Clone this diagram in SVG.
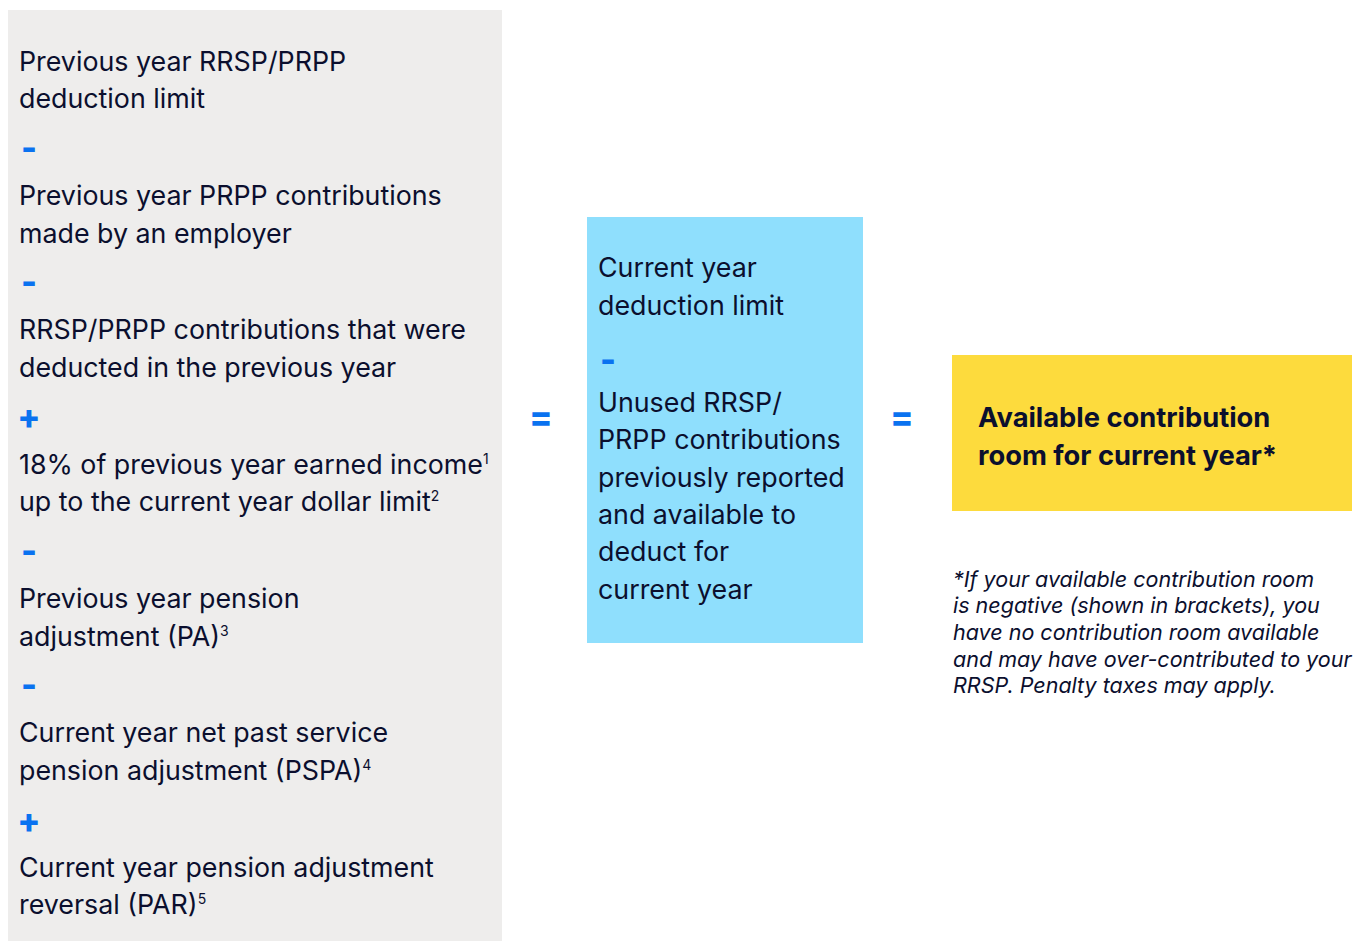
<svg xmlns="http://www.w3.org/2000/svg" width="1359" height="941" viewBox="0 0 1359 941">
<style>
.t{font-family:Inter,"Noto Sans","Liberation Sans",sans-serif;font-size:26.8px;fill:#0b0f2e}
.op{font-family:Inter,"Noto Sans","Liberation Sans",sans-serif;font-size:34px;font-weight:800;fill:#0a72f0;text-anchor:middle}
.b{font-family:Inter,"Noto Sans","Liberation Sans",sans-serif;font-size:27.3px;font-weight:700;fill:#0b0f2e}
.n{font-family:Inter,"Noto Sans","Liberation Sans",sans-serif;font-size:21.5px;font-style:italic;fill:#0b0f2e}
.sup{font-size:14px}
</style>
<rect width="1359" height="941" fill="#ffffff"/>
<g id="left-box">
<rect x="8" y="10" width="494" height="931" fill="#eeedec"/>
<text class="t" x="19" y="71">Previous year RRSP/PRPP</text>
<text class="t" x="19" y="108">deduction limit</text>
<text class="op" x="29" y="160">-</text>
<text class="t" x="19" y="205">Previous year PRPP contributions</text>
<text class="t" x="19" y="243">made by an employer</text>
<text class="op" x="29" y="294">-</text>
<text class="t" x="19" y="339">RRSP/PRPP contributions that were</text>
<text class="t" x="19" y="377">deducted in the previous year</text>
<text class="op" x="29" y="429">+</text>
<text class="t" x="19" y="474">18% of previous year earned income<tspan class="sup" dy="-10">1</tspan></text>
<text class="t" x="19" y="511">up to the current year dollar limit<tspan class="sup" dy="-10">2</tspan></text>
<text class="op" x="29" y="563">-</text>
<text class="t" x="19" y="608">Previous year pension</text>
<text class="t" x="19" y="646">adjustment (PA)<tspan class="sup" dy="-10">3</tspan></text>
<text class="op" x="29" y="697">-</text>
<text class="t" x="19" y="742">Current year net past service</text>
<text class="t" x="19" y="780">pension adjustment (PSPA)<tspan class="sup" dy="-10">4</tspan></text>
<text class="op" x="29" y="833">+</text>
<text class="t" x="19" y="877">Current year pension adjustment</text>
<text class="t" x="19" y="914">reversal (PAR)<tspan class="sup" dy="-10">5</tspan></text>
</g>
<g id="connectors">
<text class="op" x="541" y="429">=</text>
<text class="op" x="902" y="429">=</text>
</g>
<g id="middle-box">
<rect x="587" y="217" width="276" height="426" fill="#8fdffd"/>
<text class="t" x="598" y="277">Current year</text>
<text class="t" x="598" y="315">deduction limit</text>
<text class="op" x="608" y="372">-</text>
<text class="t" x="598" y="412">Unused RRSP/</text>
<text class="t" x="598" y="449">PRPP contributions</text>
<text class="t" x="598" y="487">previously reported</text>
<text class="t" x="598" y="524">and available to</text>
<text class="t" x="598" y="561">deduct for</text>
<text class="t" x="598" y="599">current year</text>
</g>
<g id="result-box">
<rect x="952" y="355" width="400" height="156" fill="#fddb3d"/>
<text class="b" x="978" y="427">Available contribution</text>
<text class="b" x="978" y="465">room for current year*</text>
</g>
<g id="note">
<text class="n" x="953" y="587">*If your available contribution room</text>
<text class="n" x="953" y="613">is negative (shown in brackets), you</text>
<text class="n" x="953" y="640">have no contribution room available</text>
<text class="n" x="953" y="667">and may have over-contributed to your</text>
<text class="n" x="953" y="693">RRSP. Penalty taxes may apply.</text>
</g>
</svg>
